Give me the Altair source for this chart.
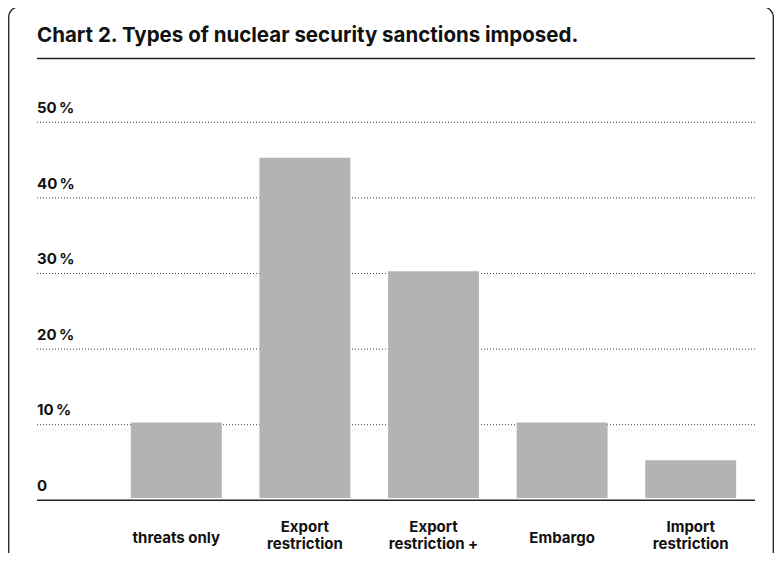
import altair as alt
import pandas as pd

# ---- data ----
categories = ["threats only", "Export restriction", "Export restriction +", "Embargo", "Import restriction"]
values = [10, 45, 30, 10, 5]
label_top = ["", "Export", "Export", "", "Import"]
label_bottom = ["", "restriction", "restriction +", "", "restriction"]
label_single = ["threats only", "", "", "Embargo", ""]
grid_values = [10, 20, 30, 40, 50]
tick_values = [0, 10, 20, 30, 40, 50]
tick_labels = ["0", "10\u2009%", "20\u2009%", "30\u2009%", "40\u2009%", "50\u2009%"]
title_text = ["Chart 2. Types of nuclear security sanctions imposed."]

FONT = "Inter"
INK = "#111111"
W, H = 718, 378

bars_df = pd.DataFrame({
    "cat": categories, "v": values,
    "top": label_top, "bottom": label_bottom, "single": label_single,
})
grid_df = pd.DataFrame({"v": grid_values})
base_df = pd.DataFrame({"v": [0]})
lab_df = pd.DataFrame({"v": tick_values, "label": tick_labels})
title_df = pd.DataFrame({"t": title_text})

yscale = alt.Scale(domain=[0, 50], nice=False, zero=True)
xscale = alt.Scale(range=[75, W], paddingInner=0.293, paddingOuter=0.1465)
xenc = alt.X("cat:N", sort=categories, scale=xscale, axis=None)

frame = alt.Chart(base_df).mark_rect(
    filled=False, stroke="#222222", strokeWidth=1.3, cornerRadius=10
).encode(
    x=alt.value(-28.3), x2=alt.value(736.3), y=alt.value(-113), y2=alt.value(640)
)

title = alt.Chart(title_df).mark_text(
    align="left", baseline="alphabetic", font=FONT, fontSize=20.5, fontWeight="bold", color=INK
).encode(x=alt.value(0), y=alt.value(-77.7), text="t:N")

underline = alt.Chart(base_df).mark_rule(color="#222222", strokeWidth=1.5).encode(
    x=alt.value(0), x2=alt.value(W), y=alt.value(-61.5)
)

grid = alt.Chart(grid_df).mark_rule(
    color="#444444", strokeWidth=1, strokeDash=[1, 2], yOffset=2.3
).encode(y=alt.Y("v:Q", scale=yscale, axis=None))

baseline = alt.Chart(base_df).mark_rule(
    color="#222222", strokeWidth=1.6, yOffset=2.3
).encode(y=alt.Y("v:Q", scale=yscale, axis=None))

bars = alt.Chart(bars_df).mark_bar(color="#b3b3b3").encode(
    x=xenc,
    y=alt.Y("v:Q", scale=yscale, axis=None),
)

xtext = dict(align="center", baseline="alphabetic", font=FONT, fontSize=15, fontWeight="bold", color=INK)
xlab_top = alt.Chart(bars_df).mark_text(**xtext).encode(x=xenc, y=alt.value(411.7), text="top:N")
xlab_bottom = alt.Chart(bars_df).mark_text(**xtext).encode(x=xenc, y=alt.value(429.3), text="bottom:N")
xlab_single = alt.Chart(bars_df).mark_text(**xtext).encode(x=xenc, y=alt.value(422.5), text="single:N")

ylabels = alt.Chart(lab_df).mark_text(
    align="left", baseline="alphabetic", dy=-7, font=FONT, fontSize=15, fontWeight="bold", color=INK
).encode(x=alt.value(0), y=alt.Y("v:Q", scale=yscale, axis=None), text="label:N")

chart = alt.layer(
    frame, title, underline, grid, baseline, bars, xlab_top, xlab_bottom, xlab_single, ylabels
).properties(
    width=W,
    height=H,
    autosize=alt.AutoSizeParams(type="none"),
    padding={"left": 29, "top": 112, "right": 19, "bottom": 55},
    background="white",
).configure_view(stroke=None)

chart.save("out.html", embed_options={"renderer": "svg", "actions": False})
